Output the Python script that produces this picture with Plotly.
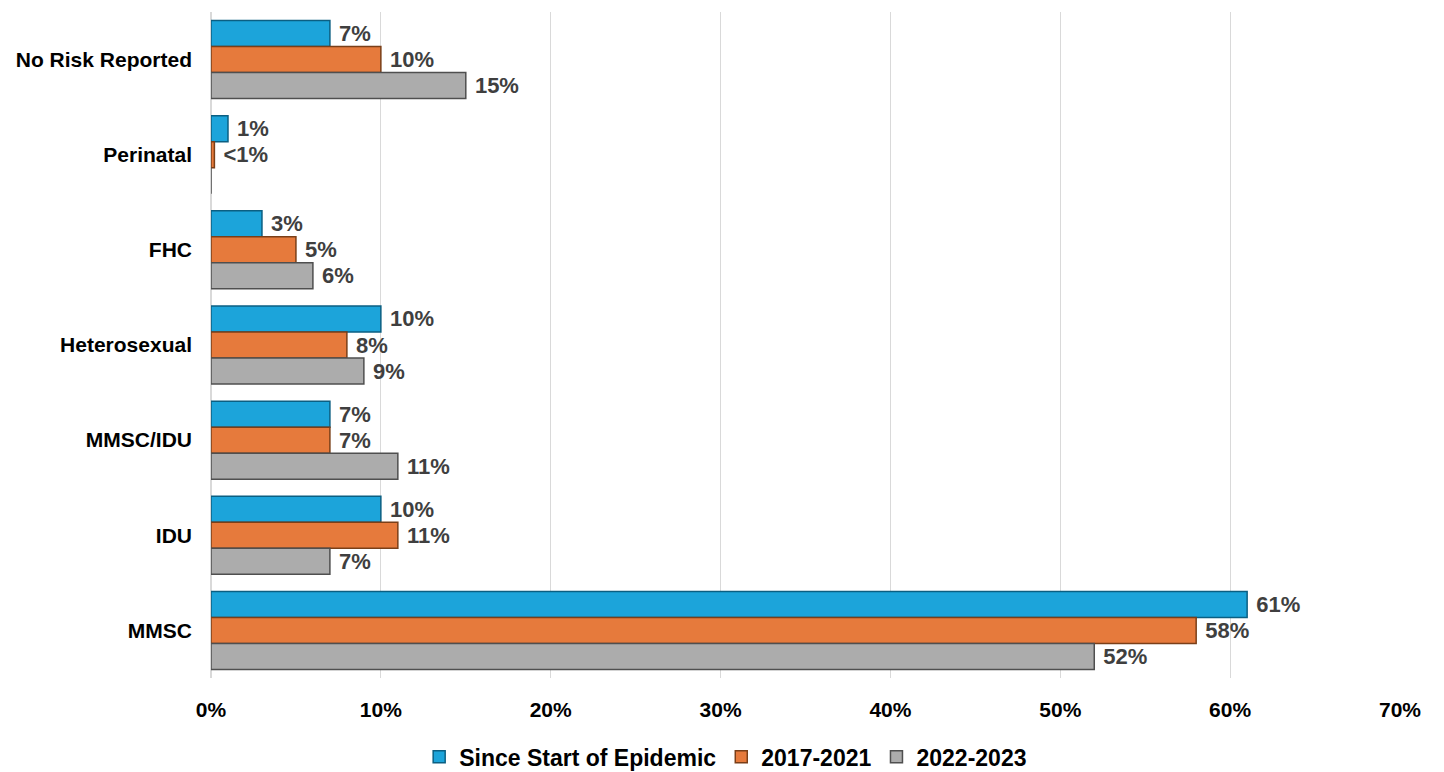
import plotly.graph_objects as go

# risk categories, listed top to bottom as in the chart
categories = ["No Risk Reported", "Perinatal", "FHC", "Heterosexual", "MMSC/IDU", "IDU", "MMSC"]

since_start = [7, 1, 3, 10, 7, 10, 61]
y2017_2021 = [10, 0.2, 5, 8, 7, 11, 58]
y2022_2023 = [15, 0, 6, 9, 11, 7, 52]

since_start_labels = ["7%", "1%", "3%", "10%", "7%", "10%", "61%"]
y2017_2021_labels = ["10%", "<1%", "5%", "8%", "7%", "11%", "58%"]
y2022_2023_labels = ["15%", "", "6%", "9%", "11%", "7%", "52%"]

x_ticks = [0, 10, 20, 30, 40, 50, 60, 70]
x_tick_labels = ["0%", "10%", "20%", "30%", "40%", "50%", "60%", "70%"]

series = [
    ("Since Start of Epidemic", since_start, since_start_labels, "#1CA4DA", "#0B5F82"),
    ("2017-2021", y2017_2021, y2017_2021_labels, "#E67A3C", "#7A3F18"),
    ("2022-2023", y2022_2023, y2022_2023_labels, "#ACACAC", "#4F4F4F"),
]

font = "Liberation Sans, Arial, sans-serif"

fig = go.Figure()
for name, vals, labels, col, edge in series:
    fig.add_trace(go.Bar(
        name=name, y=categories, x=vals, orientation="h",
        marker=dict(color=col, line=dict(color=edge, width=1.5)),
        text=labels, texttemplate=" %{text}", textposition="outside", cliponaxis=False,
        textfont=dict(family=font, size=22, color="#3F3F3F", weight="bold"),
    ))

# page body adds an 8px offset, so margins are shifted accordingly
fig.update_layout(
    barmode="group", bargap=0.18, bargroupgap=0,
    width=1444, height=772,
    margin=dict(l=203, r=52, t=4, b=102),
    plot_bgcolor="white", paper_bgcolor="white",
    font=dict(family=font, color="black"),
    legend=dict(orientation="h", xref="container", yref="container",
                x=0.497, xanchor="center", y=0.03, yanchor="middle",
                font=dict(size=23, weight="bold"), itemwidth=30, traceorder="normal"),
    xaxis=dict(range=[0, 70], tickmode="array", tickvals=x_ticks, ticktext=x_tick_labels,
               showgrid=True, gridcolor="#D9D9D9", gridwidth=1,
               zeroline=True, zerolinecolor="#D9D9D9", zerolinewidth=1.5,
               tickfont=dict(size=21, weight="bold"), ticks="", ticklabelstandoff=17,
               automargin=False),
    yaxis=dict(autorange="reversed", showline=False, ticks="",
               tickfont=dict(size=21, weight="bold"), ticklabelstandoff=18,
               automargin=False),
)

fig.write_html("out.html")
